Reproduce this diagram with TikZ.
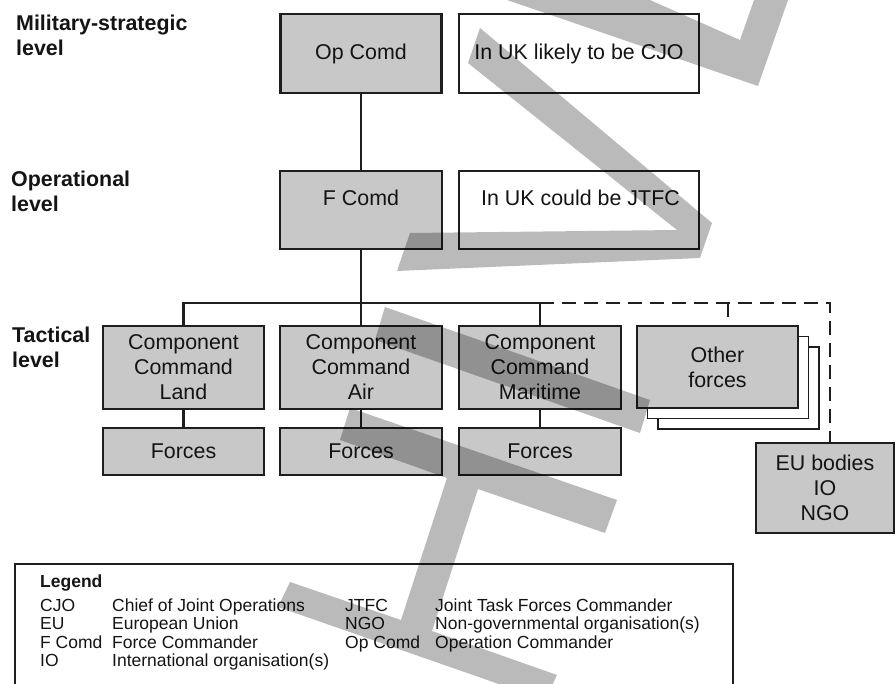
\documentclass[tikz,border=0pt]{standalone}
\usepackage{fontspec}
\setmainfont{Liberation Sans}
\definecolor{boxfill}{RGB}{200,200,200}
\definecolor{linecol}{RGB}{30,30,30}
\definecolor{txtcol}{RGB}{20,20,20}
\newcommand\boxfnt{\fontsize{21.4}{25}\selectfont}
\newcommand\lvlfnt{\fontsize{21.4}{25}\selectfont\bfseries}
\newcommand\legfnt{\fontsize{17.5}{18.3}\selectfont}
\begin{document}
\begin{tikzpicture}[x=1pt,y=-1pt,
  every node/.style={text=txtcol},
  box/.style={draw=linecol,line width=2.3pt,fill=boxfill,inner sep=0pt,align=center,font=\boxfnt},
  wbox/.style={box,fill=white},
  sbox/.style={wbox,line width=1.7pt},
  txt/.style={inner sep=0pt,font=\boxfnt},
  conn/.style={draw=linecol,line width=2.4pt},
  dconn/.style={conn,dash pattern=on 14pt off 8pt},
  lvl/.style={anchor=west,align=left,inner sep=0pt,font=\lvlfnt},
  leg/.style={anchor=base west,inner sep=0pt,font=\legfnt},
  wm/.style={fill=black,fill opacity=0.27,draw=none}
]
\useasboundingbox (0,0) rectangle (896,684);

% level labels
\node[lvl] (lvms) at (16,35.5) {Military-strategic\\level};
\node[lvl] (lvop) at (11,191.5) {Operational\\level};
\node[lvl] (lvta) at (12,347) {Tactical\\level};

% top rows
\node[box,minimum width=161pt,minimum height=79pt] (opcomd) at (361,53.5) {Op Comd};
\node[wbox,minimum width=240pt,minimum height=79pt] (cjo) at (579,53.5) {In UK likely to be CJO};
\node[box,minimum width=162pt,minimum height=78pt] (fcomd) at (361,210) {};
\node[txt] (fcomdtxt) at (361,198) {F Comd};
\node[wbox,minimum width=240pt,minimum height=78pt] (jtfc) at (579,210) {};
\node[txt] (jtfctxt) at (580.5,198) {In UK could be JTFC};

% tactical level
\node[box,minimum width=161pt,minimum height=83pt] (land) at (183.5,367.5) {Component\\Command\\Land};
\node[box,minimum width=162pt,minimum height=83pt] (air) at (361,367.5) {Component\\Command\\Air};
\node[box,minimum width=162pt,minimum height=83pt] (mar) at (540,367.5) {Component\\Command\\Maritime};
\node[sbox,minimum width=161pt,minimum height=82pt] (oth2) at (738.5,388) {};
\node[sbox,minimum width=161pt,minimum height=82pt] (oth1) at (728,377.5) {};
\node[box,minimum width=161pt,minimum height=82pt] (oth) at (717.5,367) {Other\\forces};

\node[box,minimum width=161pt,minimum height=47pt] (fl) at (183.5,451.5) {Forces};
\node[box,minimum width=162pt,minimum height=47pt] (fa) at (361,451.5) {Forces};
\node[box,minimum width=162pt,minimum height=47pt] (fm) at (540,451.5) {Forces};

\node[box,minimum width=138pt,minimum height=90pt] (eu) at (825,488) {EU bodies\\IO\\NGO};

% connectors
\coordinate (bus) at (361,303);
\coordinate (dcorner) at (830,303);
\coordinate (stub) at (728,303);
\coordinate (stubend) at (728,322);
\draw[conn] (opcomd.south) -- (fcomd.north);
\draw[conn] (fcomd.south) -- (bus);
\draw[conn] (land.north) -- (land.north |- bus) -- (mar.north |- bus) -- (mar.north);
\draw[conn] (air.north) -- (air.north |- bus);
\draw[dconn] (mar.north |- bus) -- (dcorner) -- (dcorner |- eu.north);
\draw[dconn] (stub) -- (stubend);
\draw[conn] (land.south) -- (fl.north);
\draw[conn] (air.south) -- (fa.north);
\draw[conn] (mar.south) -- (fm.north);

% legend
\draw[line width=1.2pt,draw=linecol] (15,684) -- (15,564) -- (733,564) -- (733,684);
\node[leg,font=\legfnt\bfseries] (lgt) at (40,587.7) {Legend};
\node[leg] (la1) at (40,611.5) {CJO};
\node[leg] (lb1) at (112,611.5) {Chief of Joint Operations};
\node[leg] (la2) at (40,629.8) {EU};
\node[leg] (lb2) at (112,629.8) {European Union};
\node[leg] (la3) at (40,648.1) {F Comd};
\node[leg] (lb3) at (112,648.1) {Force Commander};
\node[leg] (la4) at (40,666.4) {IO};
\node[leg] (lb4) at (112,666.4) {International organisation(s)};
\node[leg] (lc1) at (345,611.5) {JTFC};
\node[leg] (ld1) at (435,611.5) {Joint Task Forces Commander};
\node[leg] (lc2) at (345,629.8) {NGO};
\node[leg] (ld2) at (435,629.8) {Non-governmental organisation(s)};
\node[leg] (lc3) at (345,648.1) {Op Comd};
\node[leg] (ld3) at (435,648.1) {Operation Commander};

% grey overlay strokes
\fill[wm] (507,0) -- (758,86) -- (788,0) -- (754,0) -- (740,40) -- (650,0) -- cycle;
\fill[wm] (480,28) -- (712,223) -- (700,258) -- (397,271) -- (410,233) -- (677,230) -- (468,63) -- cycle;
\fill[wm] (385,307) -- (650,400) -- (640,433) -- (375,340) -- cycle;
\fill[wm] (350,408) -- (617,500) -- (605,533) -- (478,489) -- (432,631) -- (557,675) -- (550,690) -- (516,690) -- (278,607) -- (290,582) -- (401,620) -- (447,478) -- (340,440) -- cycle;
\end{tikzpicture}
\end{document}
